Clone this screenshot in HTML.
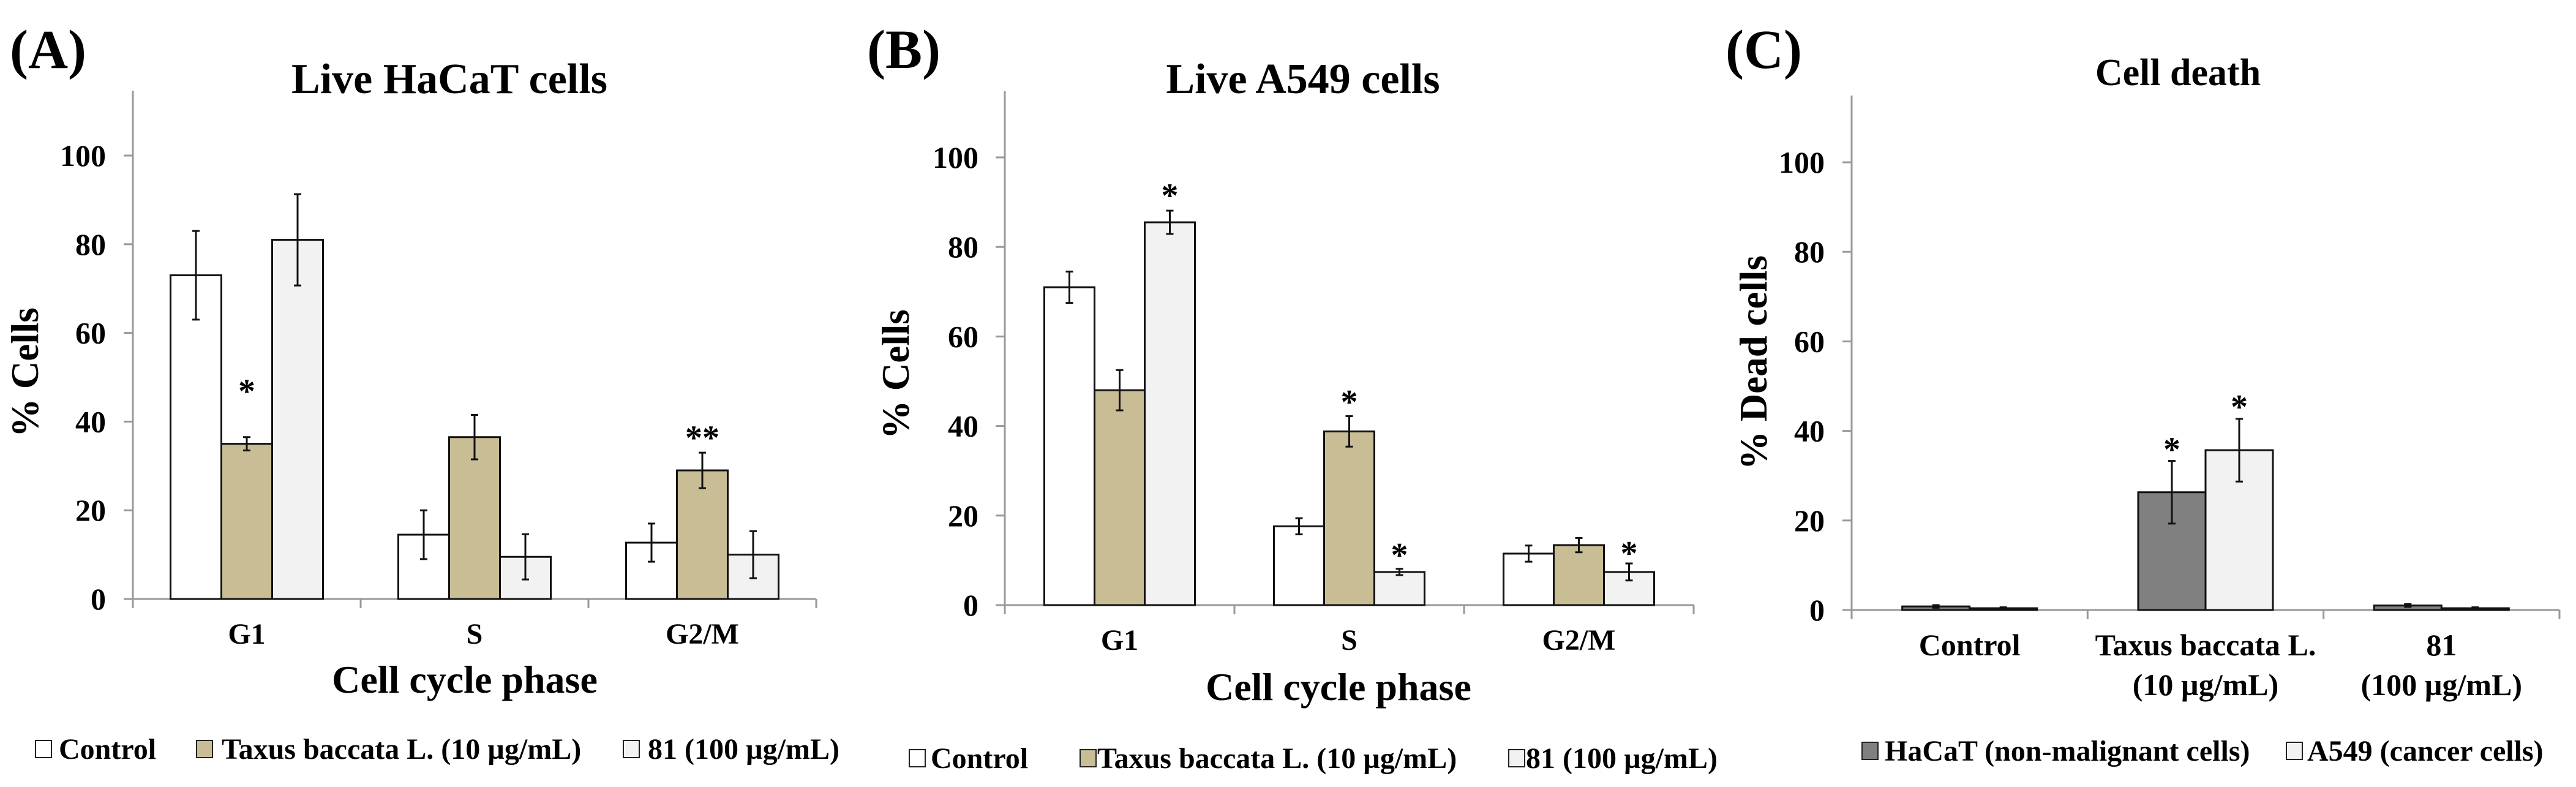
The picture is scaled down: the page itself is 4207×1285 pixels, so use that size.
<!DOCTYPE html>
<html><head><meta charset="utf-8">
<style>
html,body{margin:0;padding:0;background:#fff;}
svg{display:block;font-family:"Liberation Serif",serif;font-weight:bold;}
</style></head>
<body>
<svg id="fig" width="4207" height="1285" viewBox="0 0 4207 1285" xmlns="http://www.w3.org/2000/svg"></svg>
<script>
// ---- data ----
const phaseCats = ["G1", "S", "G2/M"];
const yTicks = [0, 20, 40, 60, 80, 100];
// Panel A (Live HaCaT)
const aControl = [73, 14.5, 12.7];
const aControlErr = [10, 5.5, 4.3];
const aTaxus = [35, 36.5, 29];
const aTaxusErr = [1.5, 5, 4];
const a81 = [81, 9.5, 10];
const a81Err = [10.3, 5.1, 5.3];
const aStars = [[null, 48, null], [null, null, null], [null, 37.5, null]];
const aStarText = [["", "*", ""], ["", "", ""], ["", "**", ""]];
// Panel B (Live A549)
const bControl = [71, 17.6, 11.5];
const bControlErr = [3.5, 1.8, 1.8];
const bTaxus = [48, 38.8, 13.4];
const bTaxusErr = [4.5, 3.4, 1.6];
const b81 = [85.5, 7.4, 7.4];
const b81Err = [2.6, 0.7, 1.9];
const bStars = [[null, null, 92.6], [null, 46.5, 12.3], [null, null, 12.7]];
const bStarText = [["", "", "*"], ["", "*", "*"], ["", "", "*"]];
// Panel C (Cell death)
const deathCats = [["Control"], ["Taxus baccata L.", "(10 µg/mL)"], ["81", "(100 µg/mL)"]];
const cHacat = [0.8, 26.3, 1.0];
const cHacatErr = [0.3, 7, 0.3];
const cA549 = [0.4, 35.7, 0.4];
const cA549Err = [0.2, 7, 0.2];
const cStars = [[null, null], [37, 46.5], [null, null]];
const cStarText = [["", ""], ["*", "*"], ["", ""]];

const NS = "http://www.w3.org/2000/svg";
const svg = document.getElementById("fig");
function mk(tag, attrs, parent, text) {
  const e = document.createElementNS(NS, tag);
  for (const k in attrs) e.setAttribute(k, attrs[k]);
  if (text !== undefined) e.textContent = text;
  (parent || svg).appendChild(e);
  return e;
}

function panel(cfg) {
  const g = mk("g", {});
  
  
  const yScale = v => cfg.y0 - (cfg.y0 - cfg.y100) * v / 100;
  const n = cfg.cats.length;
  const cw = (cfg.x1 - cfg.x0) / n;
  const xc = i => cfg.x0 + cw * (i + 0.5);

  let t = mk("text", {x: cfg.letterX, y: cfg.letterY, "font-size": 90}, g, cfg.letter);
  
  
  t = mk("text", {x: cfg.titleX, y: cfg.titleY, "font-size": cfg.titleSize, "text-anchor": "middle"}, g, cfg.title);
  
  

  // axes
  let l = mk("line", {x1: cfg.x0, y1: cfg.yTop, x2: cfg.x0, y2: cfg.y0 + 10, stroke: "#999", "stroke-width": 3}, g);
  
  
  yTicks.forEach(v => {
    const y = yScale(v);
    const tk = mk("line", {x1: cfg.x0 - 15, y1: y, x2: cfg.x0, y2: y, stroke: "#999", "stroke-width": 3}, g);
    
    
    const tl = mk("text", {x: cfg.tickRight, y: y + 17, "font-size": 50, "text-anchor": "end"}, g, String(v));
    
    
  });
  l = mk("line", {x1: cfg.x0, y1: cfg.y0, x2: cfg.x1, y2: cfg.y0, stroke: "#999", "stroke-width": 3}, g);
  
  
  for (let i = 0; i <= n; i++) {
    const x = cfg.x0 + cw * i;
    const tk = mk("line", {x1: x, y1: cfg.y0, x2: x, y2: cfg.y0 + 15, stroke: "#999", "stroke-width": 3}, g);
    
    
  }
  // y title
  t = mk("text", {x: 0, y: 0, "font-size": 63, "text-anchor": "middle", transform: `translate(${cfg.yTitleX},${cfg.yTitleY}) rotate(-90)`}, g, cfg.yTitle);
  
  

  // category labels
  cfg.cats.forEach((c, i) => {
    const lines = Array.isArray(c) ? c : [c];
    lines.forEach((s, j) => {
      const cl = mk("text", {x: xc(i), y: cfg.catY + j * cfg.catLine, "font-size": cfg.catSize, "text-anchor": "middle"}, g, s);
      
      
    });
  });
  if (cfg.xTitle) {
    t = mk("text", {x: cfg.xTitleX, y: cfg.xTitleY, "font-size": 64, "text-anchor": "middle"}, g, cfg.xTitle);
    
    
  }

  // bars
  const ns = cfg.series.length;
  const bw = cfg.barW;
  cfg.series.forEach((s, k) => {
    s.vals.forEach((v, i) => {
      const bx = xc(i) - bw * ns / 2 + bw * k;
      const yt = yScale(v);
      const r = mk("rect", {x: bx, y: yt, width: bw, height: cfg.y0 - yt, fill: s.fill, stroke: "#111", "stroke-width": 3}, g);
      
      
      const e = s.err[i];
      const cx = bx + bw / 2;
      const e1 = yScale(v + e), e2 = yScale(v - e);
      const eb = mk("path", {d: `M${cx},${e1}V${e2}M${cx - 6},${e1}H${cx + 6}M${cx - 6},${e2}H${cx + 6}`, stroke: "#111", "stroke-width": 3, fill: "none"}, g);
      
      
      const sv = cfg.stars[i][k];
      if (sv !== null) {
        const st = mk("text", {x: cx, y: yScale(sv) + 27, "font-size": 56, "text-anchor": "middle"}, g, cfg.starText[i][k]);
        
        
      }
    });
  });

  // legend
  cfg.legend.forEach((le, k) => {
    const b = mk("rect", {x: le.bx, y: cfg.legY - 30, width: 26, height: 28, fill: cfg.series[k].fill, stroke: "#222", "stroke-width": 2}, g);
    
    
    const lt = mk("text", {x: le.tx, y: cfg.legY, "font-size": 48}, g, le.text);
    
    
  });
}

const TAN = "#c9bd95", LIGHT = "#f2f2f2";

panel({name: "panel-a-live-hacat", letter: "(A)", letterX: 16, letterY: 111,
  title: "Live HaCaT cells", titleX: 734, titleY: 152, titleSize: 70,
  x0: 217, x1: 1333, y0: 978, y100: 254, yTop: 148, tickRight: 173,
  yTitle: "% Cells", yTitleX: 62, yTitleY: 608,
  cats: phaseCats, catY: 1051, catLine: 60, catSize: 48,
  xTitle: "Cell cycle phase", xTitleX: 759, xTitleY: 1131,
  barW: 83,
  series: [{key: "control", vals: aControl, err: aControlErr, fill: "#fff"},
           {key: "taxus", vals: aTaxus, err: aTaxusErr, fill: TAN},
           {key: "81", vals: a81, err: a81Err, fill: LIGHT}],
  stars: aStars, starText: aStarText,
  legY: 1239,
  legend: [{bx: 58, tx: 96, text: "Control"}, {bx: 321, tx: 362, text: "Taxus baccata L. (10 µg/mL)"}, {bx: 1018, tx: 1058, text: "81 (100 µg/mL)"}]
});

panel({name: "panel-b-live-a549", letter: "(B)", letterX: 1416, letterY: 111,
  title: "Live A549 cells", titleX: 2128, titleY: 152, titleSize: 70,
  x0: 1641, x1: 2766, y0: 988, y100: 257, yTop: 149, tickRight: 1598,
  yTitle: "% Cells", yTitleX: 1484, yTitleY: 611,
  cats: phaseCats, catY: 1061, catLine: 60, catSize: 48,
  xTitle: "Cell cycle phase", xTitleX: 2186, xTitleY: 1143,
  barW: 82,
  series: [{key: "control", vals: bControl, err: bControlErr, fill: "#fff"},
           {key: "taxus", vals: bTaxus, err: bTaxusErr, fill: TAN},
           {key: "81", vals: b81, err: b81Err, fill: LIGHT}],
  stars: bStars, starText: bStarText,
  legY: 1254,
  legend: [{bx: 1485, tx: 1520, text: "Control"}, {bx: 1764, tx: 1792, text: "Taxus baccata L. (10 µg/mL)"}, {bx: 2464, tx: 2492, text: "81 (100 µg/mL)"}]
});

panel({name: "panel-c-cell-death", letter: "(C)", letterX: 2818, letterY: 111,
  title: "Cell death", titleX: 3557, titleY: 139, titleSize: 62,
  x0: 3024, x1: 4180, y0: 996, y100: 265, yTop: 156, tickRight: 2980,
  yTitle: "% Dead cells", yTitleX: 2885, yTitleY: 592,
  cats: deathCats, catY: 1070, catLine: 65, catSize: 50,
  xTitle: null,
  barW: 110,
  series: [{key: "hacat", vals: cHacat, err: cHacatErr, fill: "#808080"},
           {key: "a549", vals: cA549, err: cA549Err, fill: LIGHT}],
  stars: cStars, starText: cStarText,
  legY: 1242,
  legend: [{bx: 3041, tx: 3078, text: "HaCaT (non-malignant cells)"}, {bx: 3734, tx: 3768, text: "A549 (cancer cells)"}]
});
</script>
</body></html>
